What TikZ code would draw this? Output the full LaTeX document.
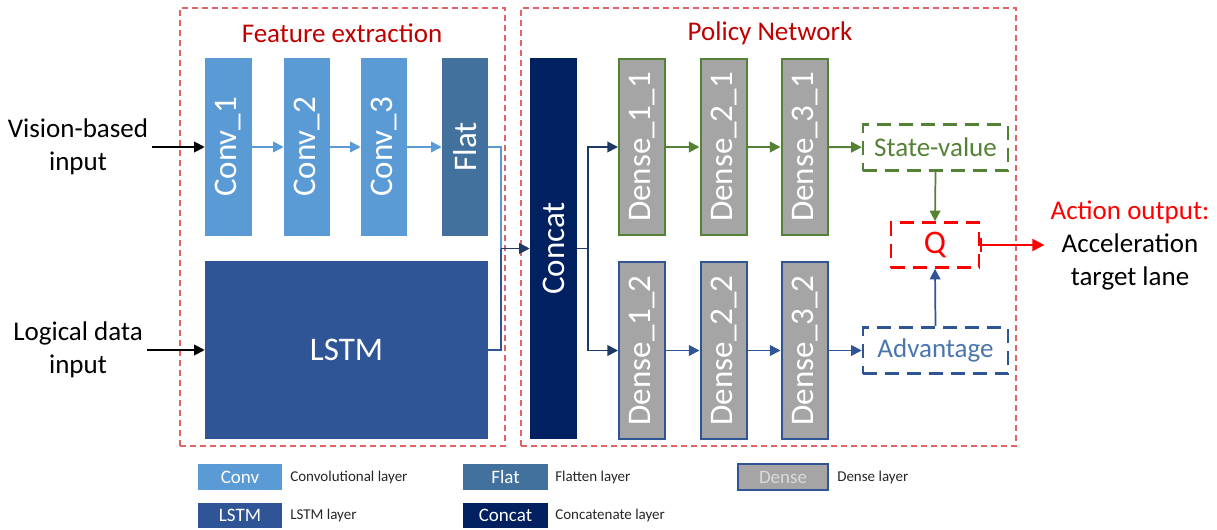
\documentclass[tikz,border=0pt]{standalone}
\usepackage{fontspec}
\usepackage{graphicx}
\setmainfont{Carlito}
\usetikzlibrary{arrows.meta,calc}

% palette
\definecolor{convc}{HTML}{5B9BD5}
\definecolor{flatc}{HTML}{41719C}
\definecolor{lstmc}{HTML}{2F5597}
\definecolor{concatc}{HTML}{002060}
\definecolor{navyline}{HTML}{1F3864}
\definecolor{densec}{HTML}{A5A5A5}
\definecolor{greenc}{HTML}{548235}
\definecolor{bluec}{HTML}{2F5597}
\definecolor{advtext}{HTML}{4A76AE}
\definecolor{framec}{HTML}{E06666}
\definecolor{titlec}{HTML}{C00000}
\definecolor{qred}{HTML}{FF0000}
\definecolor{legtext}{HTML}{262626}
\definecolor{densetext}{HTML}{DADADA}

% font sizes
\newcommand{\fbig}{\fontsize{24.75pt}{29pt}\selectfont}
\newcommand{\fmid}{\fontsize{20.25pt}{24.75pt}\selectfont}
\newcommand{\fsml}{\fontsize{14.25pt}{17pt}\selectfont}
\newcommand{\ftiny}{\fontsize{11.25pt}{13.5pt}\selectfont}

\begin{document}
\begin{tikzpicture}[x=0.75pt,y=-0.75pt,
  sz/.style 2 args={minimum width=#1*0.75pt, minimum height=#2*0.75pt},
  layer/.style={inner sep=0pt, text=white, font=\fbig},
  denseg/.style={layer, fill=densec, draw=greenc, line width=1.5pt},
  denseb/.style={layer, fill=densec, draw=bluec, line width=1.5pt},
  frame/.style={draw=framec, line width=0.9pt, dash pattern=on 4.5pt off 3pt, inner sep=0pt},
  outbox/.style={inner sep=0pt, line width=1.9pt, dash pattern=on 10.5pt off 6pt, font=\fmid},
  tip/.style={-{Triangle[length=8pt,width=8pt]}},
  arr/.style={line width=1.4pt, tip},
  lnk/.style={line width=1.3pt},
  inlabel/.style={font=\fmid, align=center, inner sep=3pt},
  legbox/.style={inner sep=0pt, text=white, font=\fsml},
  legtxt/.style={anchor=west, inner sep=0pt, font=\ftiny, text=legtext}
]
\useasboundingbox (0,0) rectangle (1217,529);

% dashed group frames and their titles
\node[frame, sz={325}{438}] (fe) at (342.5,227) {};
\node[frame, sz={495}{438}] (pn) at (768.5,227) {};
\node[font=\fmid, text=titlec] (fetitle) at (342,33) {Feature extraction};
\node[font=\fmid, text=titlec] (pntitle) at (770,33) {Policy Network};

% feature extraction layers
\node[layer, fill=convc, sz={47}{178}] (c1) at (228.5,147) {\rotatebox{90}{Conv\_1}};
\node[layer, fill=convc, sz={46}{178}] (c2) at (307,147) {\rotatebox{90}{Conv\_2}};
\node[layer, fill=convc, sz={46}{178}] (c3) at (384,147) {\rotatebox{90}{Conv\_3}};
\node[layer, fill=flatc, sz={46}{178}] (flat) at (465,147) {\rotatebox{90}{Flat}};
\node[layer, fill=lstmc, sz={283}{178}] (lstm) at (346.5,350) {LSTM};

% policy network layers
\node[layer, fill=concatc, sz={47}{381}] (concat) at (553.5,248.5) {\rotatebox{90}{Concat}};
\node[denseg, sz={46}{176}] (d11) at (642,147) {\rotatebox{90}{Dense\_1\_1}};
\node[denseg, sz={46}{176}] (d21) at (723.5,147) {\rotatebox{90}{Dense\_2\_1}};
\node[denseg, sz={46}{176}] (d31) at (804.5,147) {\rotatebox{90}{Dense\_3\_1}};
\node[denseb, sz={46}{177}] (d12) at (642,350.5) {\rotatebox{90}{Dense\_1\_2}};
\node[denseb, sz={46}{177}] (d22) at (723.5,350.5) {\rotatebox{90}{Dense\_2\_2}};
\node[denseb, sz={46}{177}] (d32) at (804.5,350.5) {\rotatebox{90}{Dense\_3\_2}};

% value / advantage streams and Q
\node[outbox, draw=greenc, text=greenc, sz={145}{46}] (sv) at (935.5,147.5) {State-value};
\node[outbox, draw=bluec, text=advtext, sz={145}{46}] (adv) at (935.5,350.5) {Advantage};
\node[outbox, draw=qred, text=qred, sz={88}{45}, font=\fbig] (q) at (935,245) {Q};

% inputs and output
\node[inlabel] (vis) at (78,147) {Vision-based\\input};
\node[inlabel] (logic) at (78,350) {Logical data\\input};
\node[inlabel, inner sep=4.5pt] (out) at (1130,245) {\textcolor{qred}{Action output:}\\Acceleration\\target lane};

% input arrows
\draw[arr, black] (vis.east |- c1.west) -- (c1.west);
\draw[arr, black] (logic.east |- lstm.west) -- (lstm.west);

% conv chain
\draw[lnk, tip, convc] (c1) -- (c2);
\draw[lnk, tip, convc] (c2) -- (c3);
\draw[lnk, tip, convc] (c3) -- (flat);

% merge into concat
\coordinate (jn) at (501,248.5);
\draw[lnk, convc] (flat.east) -| (jn);
\draw[lnk, lstmc] (lstm.east) -| (jn);
\draw[arr, navyline] (jn) -- (concat.west);

% split into the two dense streams
\coordinate (sp) at (588,248.5);
\draw[lnk, navyline] (concat.east) -- (sp);
\draw[arr, navyline] (sp) |- (d11.west);
\draw[arr, navyline] (sp) |- (d12.west);

% value stream
\draw[arr, greenc] (d11) -- (d21);
\draw[arr, greenc] (d21) -- (d31);
\draw[arr, greenc] (d31) -- (sv);
\draw[lnk, tip, greenc] (sv.south) -- (q.north);

% advantage stream
\draw[arr, bluec] (d12) -- (d22);
\draw[arr, bluec] (d22) -- (d32);
\draw[arr, bluec] (d32) -- (adv);
\draw[lnk, tip, bluec] (adv.north) -- (q.south);

% action output
\draw[line width=1.5pt, qred, {Bar[width=10pt]}-{Triangle[length=9pt,width=9pt]}] (q.east) -- (out.west);

% legend
\node[legbox, fill=convc, sz={84}{26}] (lgconv) at (240,477) {Conv};
\node[legtxt] (lgconvt) at (290,477) {Convolutional layer};
\node[legbox, fill=lstmc, sz={84}{25}] (lglstm) at (240,515.5) {LSTM};
\node[legtxt] (lglstmt) at (290,515.5) {LSTM layer};
\node[legbox, fill=flatc, sz={85}{26}] (lgflat) at (505.5,477) {Flat};
\node[legtxt] (lgflatt) at (555,477) {Flatten layer};
\node[legbox, fill=concatc, sz={85}{25}] (lgcat) at (505.5,515.5) {Concat};
\node[legtxt] (lgcatt) at (555,515.5) {Concatenate layer};
\node[legbox, fill=densec, draw=bluec, line width=1.5pt, text=densetext, sz={90}{26}] (lgdense) at (783,477) {Dense};
\node[legtxt] (lgdenset) at (837,477) {Dense layer};
\end{tikzpicture}
\end{document}
